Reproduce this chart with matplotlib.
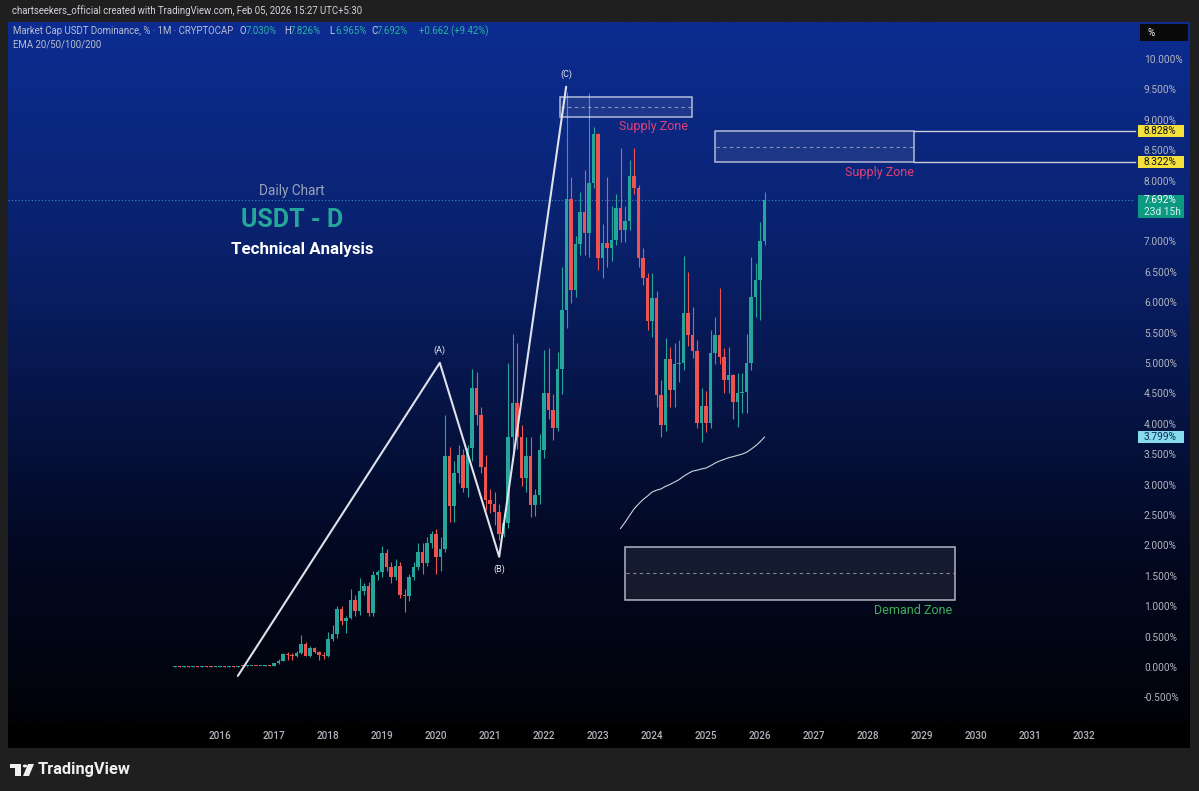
import numpy as np
import matplotlib.pyplot as plt
import matplotlib.transforms as mtransforms
from matplotlib.patches import Rectangle, Polygon, Circle

plt.rcParams['font.family'] = ['Roboto', 'DejaVu Sans']

# monthly candles, first bar = Mar 2015
first_year, first_month = 2015, 3
pre_close = [0.021, 0.019, 0.022, 0.020, 0.023, 0.021, 0.024, 0.022, 0.020, 0.023, 0.025,
             0.022, 0.026, 0.024, 0.028, 0.026, 0.030, 0.034, 0.031, 0.036, 0.040, 0.037]

# Jan 2017 .. Feb 2026 (open, high, low, close)
opens = [0.037, 0.08, 0.12, 0.23, 0.21, 0.20, 0.25, 0.39, 0.20, 0.33, 0.26, 0.22,
         0.20, 0.48, 0.56, 0.97, 0.77, 0.83, 1.12, 0.93, 1.27, 1.35, 0.90, 1.53,
         1.58, 1.89, 1.66, 1.50, 1.68, 1.20, 1.18, 1.50, 1.66, 1.90, 1.72, 2.05,
         2.20, 1.83, 1.96, 3.49, 2.66, 3.20, 3.50, 2.96, 3.62, 4.60, 4.16, 3.30,
         2.76, 2.70, 2.56, 2.20, 2.38, 3.80, 4.36, 3.80, 3.12, 3.49, 2.68, 2.85,
         3.58, 4.52, 4.24, 3.95, 4.92, 5.89, 7.71, 6.22, 6.97, 7.50, 7.15, 7.98,
         8.78, 6.74, 6.99, 6.90, 7.04, 7.57, 7.20, 7.35, 8.09, 7.90, 6.74, 6.41,
         5.71, 6.09, 4.49, 4.00, 5.08, 4.57, 5.00, 5.02, 5.84, 5.48, 5.21, 4.03,
         4.31, 4.03, 5.18, 5.48, 5.12, 4.74, 4.82, 4.38, 4.52, 4.54, 5.02, 6.10,
         6.38, 7.030]
highs = [0.09, 0.14, 0.25, 0.27, 0.24, 0.28, 0.54, 0.42, 0.36, 0.35, 0.28, 0.27,
         0.60, 0.70, 1.02, 1.02, 0.86, 1.30, 1.20, 1.48, 1.40, 1.42, 1.60, 1.62,
         2.00, 1.95, 1.75, 1.80, 1.74, 1.30, 1.55, 1.75, 2.05, 2.05, 2.15, 2.25,
         2.28, 2.15, 4.16, 3.63, 3.40, 3.67, 3.60, 3.67, 4.92, 4.87, 4.30, 3.50,
         2.95, 2.90, 2.70, 2.55, 5.02, 5.50, 5.34, 4.00, 3.80, 3.80, 2.95, 3.85,
         5.23, 5.26, 4.50, 5.20, 6.60, 9.47, 8.08, 7.10, 7.83, 8.19, 9.46, 8.90,
         8.80, 7.30, 8.08, 7.60, 7.80, 8.55, 7.60, 8.36, 8.55, 7.95, 6.90, 6.50,
         6.50, 6.20, 4.74, 5.43, 5.28, 5.35, 5.40, 6.77, 6.51, 5.94, 5.40, 4.60,
         4.55, 5.56, 5.77, 6.25, 5.26, 5.28, 4.84, 4.85, 4.85, 5.50, 6.76, 6.66,
         7.33, 7.826]
lows = [0.03, 0.07, 0.11, 0.13, 0.13, 0.18, 0.23, 0.19, 0.18, 0.24, 0.13, 0.15,
        0.18, 0.45, 0.50, 0.70, 0.58, 0.80, 0.85, 0.88, 1.20, 0.85, 0.85, 1.45,
        1.50, 1.60, 1.40, 1.45, 1.15, 0.92, 1.10, 1.45, 1.62, 1.55, 1.68, 1.98,
        1.55, 1.60, 1.90, 2.40, 2.40, 3.05, 2.90, 2.81, 3.40, 4.00, 3.20, 2.60,
        2.55, 2.35, 2.10, 2.15, 2.30, 3.40, 3.60, 3.00, 2.90, 2.48, 2.50, 2.70,
        3.45, 4.10, 3.75, 3.90, 4.50, 5.60, 6.00, 6.10, 6.80, 6.80, 6.76, 7.90,
        6.55, 6.41, 6.60, 6.70, 6.95, 7.00, 7.00, 7.20, 7.80, 6.60, 6.30, 5.56,
        5.45, 4.30, 3.80, 3.90, 4.29, 4.30, 4.70, 4.90, 5.30, 5.10, 3.95, 3.72,
        3.88, 3.95, 5.00, 5.00, 4.52, 4.52, 4.10, 3.96, 4.20, 4.19, 4.90, 5.77,
        5.72, 6.965]
closes = [0.08, 0.12, 0.23, 0.21, 0.20, 0.25, 0.39, 0.20, 0.33, 0.26, 0.22, 0.20,
          0.48, 0.56, 0.97, 0.77, 0.83, 1.12, 0.93, 1.27, 1.35, 0.90, 1.53, 1.58,
          1.89, 1.66, 1.50, 1.68, 1.20, 1.18, 1.50, 1.66, 1.90, 1.72, 2.05, 2.20,
          1.83, 1.96, 3.49, 2.66, 3.20, 3.50, 2.96, 3.62, 4.60, 4.16, 3.30, 2.76,
          2.70, 2.56, 2.20, 2.38, 3.80, 4.36, 3.80, 3.12, 3.49, 2.68, 2.85, 3.58,
          4.52, 4.24, 3.95, 4.92, 5.89, 7.71, 6.22, 6.97, 7.50, 7.15, 7.98, 8.78,
          6.74, 6.99, 6.90, 7.04, 7.57, 7.20, 7.35, 8.09, 7.90, 6.74, 6.41, 5.71,
          6.09, 4.49, 4.00, 5.08, 4.57, 5.00, 5.02, 5.84, 5.48, 5.21, 4.03, 4.31,
          4.03, 5.18, 5.48, 5.12, 4.74, 4.82, 4.38, 4.52, 4.54, 5.02, 6.10, 6.38,
          7.03, 7.692]

# Elliott-style wave drawing
wave_t = [2016.33, 2020.07, 2021.17, 2022.41]
wave_v = [-0.13, 5.02, 1.83, 9.56]
wave_labels = ['', '(A)', '(B)', '(C)']

# zones: (t0, t1, v_low, v_high)
supply_zone_1 = (2022.30, 2024.74, 9.06, 9.39)
supply_zone_2 = (2025.17, 2028.85, 8.322, 8.828)
demand_zone = (2023.50, 2029.61, 1.12, 1.99)

year_labels = list(range(2016, 2033))
price_ticks = np.arange(-0.5, 10.01, 0.5)
ema_len = 100
countdown = '23d 15h'

# ---------------------------------------------------------------
pre_open = [pre_close[0]] + pre_close[:-1]
O = np.array(pre_open + opens)
Hh = np.array([max(a, b) + 0.004 for a, b in zip(pre_open, pre_close)] + highs)
L = np.array([min(a, b) - 0.004 for a, b in zip(pre_open, pre_close)] + lows)
C = np.array(pre_close + closes)
n = len(C)
t = first_year + (first_month - 1 + np.arange(n)) / 12.0

# EMA seeded with SMA, like TradingView
ema = np.full(n, np.nan)
ema[ema_len - 1] = C[:ema_len].mean()
alpha = 2.0 / (ema_len + 1)
for i in range(ema_len, n):
    ema[i] = alpha * C[i] + (1 - alpha) * ema[i - 1]

W, Hpx = 1199, 791
fig = plt.figure(figsize=(W / 100, Hpx / 100), dpi=100)
fig.patch.set_facecolor('#1f1f1f')


def frect(x0, y0, x1, y1):
    return [x0 / W, 1 - y1 / Hpx, (x1 - x0) / W, (y1 - y0) / Hpx]


# background gradient
bg = fig.add_axes(frect(8, 22, 1190, 722))
stops = np.array([0.0, 0.25, 0.5, 0.75, 1.0])
cols = np.array([[12, 44, 145], [10, 36, 118], [7, 23, 78], [3, 9, 34], [1, 2, 8]]) / 255.0
yy = np.linspace(0, 1, 400)
grad = np.stack([np.interp(yy, stops, cols[:, c]) for c in range(3)], axis=1)
bg.imshow(grad[:, None, :], aspect='auto', extent=[0, 1, 0, 1])
bg.set_axis_off()

# time axis strip
strip = fig.add_axes(frect(8, 722, 1190, 748))
strip.set_facecolor('#000000')
strip.set_xticks([])
strip.set_yticks([])
for s in strip.spines.values():
    s.set_visible(False)

ax = fig.add_axes(frect(8, 22, 1135, 722))
ax.set_facecolor('none')
ax.set_xlim(2012.074, 2032.944)
ax.set_ylim(-0.888, 10.625)
ax.set_xticks([])
ax.set_yticks([])
for s in ax.spines.values():
    s.set_visible(False)

up, down = '#26a69a', '#ef5350'
bw = 0.78 / 12
for i in range(n):
    col = up if C[i] >= O[i] else down
    lo, hi = min(O[i], C[i]), max(O[i], C[i])
    if hi - lo < 0.016:
        hi = lo + 0.016
    ax.vlines(t[i], L[i], Hh[i], color=col, lw=0.8, zorder=3)
    ax.add_patch(Rectangle((t[i] - bw / 2, lo), bw, hi - lo, facecolor=col,
                           edgecolor='none', zorder=4))

# EMA
ax.plot(t, ema, color='#cfd3dc', lw=0.8, zorder=3)

# wave
ax.plot(wave_t, wave_v, color='#dfe2ea', lw=1.5, zorder=5, solid_capstyle='round')
for wt, wv, lab in zip(wave_t, wave_v, wave_labels):
    if not lab:
        continue
    dy = -0.12 if lab == '(B)' else 0.12
    ax.text(wt, wv + dy, lab, color='#e6e8ee', fontsize=6.5, ha='center',
            va='top' if dy < 0 else 'bottom', zorder=6)

# last price dotted line
ax.axhline(C[-1], color='#4fb8c8', lw=0.8, ls=(0, (1, 2)), alpha=0.7, zorder=2)


def zone(z, label, lcolor, ltx, lty):
    t0, t1, v0, v1 = z
    ax.add_patch(Rectangle((t0, v0), t1 - t0, v1 - v0, facecolor=(1, 1, 1, 0.08),
                           edgecolor=(0.85, 0.87, 0.92, 0.8), lw=1.1, zorder=6))
    ax.plot([t0 + 0.02, t1 - 0.02], [(v0 + v1) / 2] * 2, color=(0.8, 0.82, 0.88, 0.6),
            lw=0.8, ls=(0, (3, 3)), zorder=6)
    ax.text(ltx, lty, label, color=lcolor, fontsize=9, ha='center', va='center', zorder=7)


zone(supply_zone_1, 'Supply Zone', '#e0407a', 2024.03, 8.9)
zone(supply_zone_2, 'Supply Zone', '#e0407a', 2028.22, 8.15)
zone(demand_zone, 'Demand Zone', '#3fae5a', 2028.83, 0.95)

# extension lines from second supply zone
for v in (supply_zone_2[2], supply_zone_2[3]):
    ax.plot([supply_zone_2[1], 2032.944], [v, v], color='#c9cdd8', lw=1.0, zorder=5,
            clip_on=False)

# titles
ax.text(2017.33, 7.85, 'Daily Chart', color='#9ba3b8', fontsize=9.8, ha='center', va='center')
ax.text(2017.33, 7.37, 'USDT - D', color='#26a69a', fontsize=18, fontweight='bold',
        ha='center', va='center')
ax.text(2017.52, 6.89, 'Technical Analysis', color='white', fontsize=12.2, fontweight='bold',
        ha='center', va='center')

# time axis labels
tx = mtransforms.blended_transform_factory(ax.transData, ax.transAxes)
for yr in year_labels:
    ax.text(yr, -14 / 700, str(yr), transform=tx, color='#b2b5be', fontsize=7.2,
            fontweight='medium', ha='center', va='center', clip_on=False)

# price axis labels (7.5 is hidden behind the last-price tag)
ty = mtransforms.blended_transform_factory(ax.transAxes, ax.transData)
xlab = (1144 - 8) / 1127
for p in price_ticks:
    if abs(p - 7.5) < 1e-6:
        continue
    ax.text(xlab, p, f'{p:.3f}%', transform=ty, color='#b2b5be', fontsize=7.3,
            ha='left', va='center', clip_on=False)


def price_tag(v, text, fc, tc, h=0.2):
    ax.add_patch(Rectangle(((1138 - 8) / 1127, v - h / 2), 46 / 1127, h, transform=ty,
                           facecolor=fc, edgecolor='none', clip_on=False, zorder=8))
    ax.text(xlab, v, text, transform=ty, color=tc, fontsize=7.3, ha='left', va='center',
            clip_on=False, zorder=9)


price_tag(supply_zone_2[3], f'{supply_zone_2[3]:.3f}%', '#f5e13b', '#111111')
price_tag(supply_zone_2[2], f'{supply_zone_2[2]:.3f}%', '#f5e13b', '#111111')
price_tag(ema[-1], f'{ema[-1]:.3f}%', '#86dcec', '#0b2a55')
ax.add_patch(Rectangle(((1138 - 8) / 1127, C[-1] - 0.29), 46 / 1127, 0.38, transform=ty,
                       facecolor='#0c9a82', edgecolor='none', clip_on=False, zorder=8))
ax.text(xlab, C[-1], f'{C[-1]:.3f}%', transform=ty, color='white', fontsize=7.3,
        ha='left', va='center', clip_on=False, zorder=9)
ax.text(xlab, C[-1] - 0.185, countdown, transform=ty, color='#d8f3ee', fontsize=7.3,
        ha='left', va='center', clip_on=False, zorder=9)

# "%" box
fig.patches.append(Rectangle((1140 / W, 1 - 41 / Hpx), 48 / W, 17 / Hpx,
                             transform=fig.transFigure, facecolor='#0a0a0a',
                             edgecolor='none', zorder=5))
fig.text(1147 / W, 1 - 32.5 / Hpx, '%', color='white', fontsize=7, va='center', zorder=6)

# header and legend
fig.text(12 / W, 1 - 11 / Hpx, 'chartseekers_official created with TradingView.com, '
         'Feb 05, 2026 15:27 UTC+5:30', color='#d1d4dc', fontsize=6.9, va='center')
fig.text(13 / W, 1 - 31.5 / Hpx, 'Market Cap USDT Dominance, % · 1M · CRYPTOCAP',
         color='#b8bdd0', fontsize=6.9, va='center')
chg = C[-1] - C[-2]
parts = [('O', 240, f'{O[-1]:.3f}%'), ('H', 284, f'{Hh[-1]:.3f}%'),
         ('L', 329, f'{L[-1]:.3f}%'), ('C', 371, f'{C[-1]:.3f}%')]
for k, xp, val in parts:
    fig.text(xp / W, 1 - 31.5 / Hpx, k, color='#c8cde0', fontsize=6.9, va='center')
    fig.text((xp + 6) / W, 1 - 31.5 / Hpx, val, color='#2bb3a0', fontsize=6.9, va='center')
fig.text(419 / W, 1 - 31.5 / Hpx, f'{chg:+.3f} ({chg / C[-2] * 100:+.2f}%)', color='#2bb3a0',
         fontsize=6.9, va='center')
fig.text(13 / W, 1 - 44.5 / Hpx, 'EMA 20/50/100/200', color='#b8bdd0', fontsize=6.9,
         va='center')

# TradingView logo
logo = '#f0f0f0'
fig.patches.append(Rectangle((10 / W, 1 - 768 / Hpx), 11 / W, 4 / Hpx,
                             transform=fig.transFigure, facecolor=logo, edgecolor='none'))
fig.patches.append(Rectangle((15 / W, 1 - 776 / Hpx), 6 / W, 12 / Hpx,
                             transform=fig.transFigure, facecolor=logo, edgecolor='none'))
fig.patches.append(Circle((25 / W, 1 - 766 / Hpx), 2.2 / W, transform=fig.transFigure,
                          facecolor=logo, edgecolor='none'))
fig.patches.append(Polygon([(28 / W, 1 - 764 / Hpx), (34 / W, 1 - 764 / Hpx),
                            (29 / W, 1 - 776 / Hpx), (23 / W, 1 - 776 / Hpx)],
                           closed=True, transform=fig.transFigure, facecolor=logo,
                           edgecolor='none'))
fig.text(38 / W, 1 - 769.5 / Hpx, 'TradingView', color=logo, fontsize=11.8,
         fontweight='bold', va='center')

fig.savefig('out.png', dpi=100, facecolor=fig.get_facecolor())
